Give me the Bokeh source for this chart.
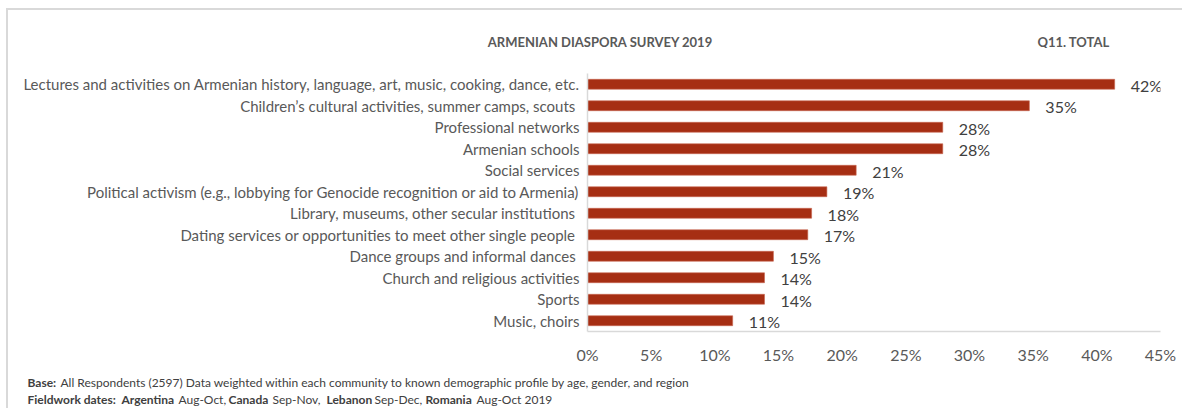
from bokeh.plotting import figure
from bokeh.models import ColumnDataSource, Label, NumeralTickFormatter, FixedTicker, Range1d
from bokeh.core.properties import value
from bokeh.embed import file_html
from bokeh.resources import INLINE

categories = [
    "Lectures and activities on Armenian history, language, art, music, cooking, dance, etc.",
    "Children\u2019s cultural activities, summer camps, scouts ",
    "Professional networks",
    "Armenian schools",
    "Social services",
    "Political activism (e.g., lobbying for Genocide recognition or aid to Armenia)",
    "Library, museums, other secular institutions ",
    "Dating services or opportunities to meet other single people ",
    "Dance groups and informal dances ",
    "Church and religious activities",
    "Sports",
    "Music, choirs",
]
values = [0.414, 0.347, 0.279, 0.279, 0.211, 0.188, 0.176, 0.173, 0.146, 0.139, 0.139, 0.114]
value_labels = ["42%", "35%", "28%", "28%", "21%", "19%", "18%", "17%", "15%", "14%", "14%", "11%"]
x_ticks = [0, 0.05, 0.10, 0.15, 0.20, 0.25, 0.30, 0.35, 0.40, 0.45]

title_text = "ARMENIAN DIASPORA SURVEY 2019"
subtitle_text = "Q11. TOTAL"

FONT = "Lato"
BAR = "#A62E13"
GREY = "#595959"
DARK = "#404040"
BORDER = "2px solid #d9d9d9"

W = 1176
OX, OY = 8, 10          # page position of the content origin
HH, MH, FH_ = 40, 326, 34   # header, main, footer heights

# ---------------- main chart ----------------
FL, FW, FT, FH = 579, 573, 25, 258

src = ColumnDataSource(dict(cat=categories, val=values, lab=value_labels))

p = figure(
    width=W, height=MH,
    y_range=list(reversed(categories)),
    x_range=Range1d(0, 0.45),
    output_backend="svg", toolbar_location=None,
    min_border_left=FL, min_border_right=W - FL - FW,
    min_border_top=FT, min_border_bottom=MH - FT - FH,
)
p.styles = {"border-left": BORDER, "margin-left": "6px"}
p.outline_line_color = None
p.xgrid.grid_line_color = None
p.ygrid.grid_line_color = None
p.background_fill_color = "white"
p.border_fill_color = "white"

p.hbar(y="cat", right="val", left=0, height=0.46, source=src,
       fill_color=BAR, line_color="#C8654F", line_width=0.6)

p.text(x="val", y="cat", text="lab", source=src, x_offset=16, y_offset=1,
       text_baseline="middle", text_align="left",
       text_font=value(FONT), text_font_size="16px", text_color=DARK)

for ax in (p.xaxis, p.yaxis):
    ax.major_tick_line_color = None
    ax.minor_tick_line_color = None
    ax.major_tick_out = 0
    ax.major_tick_in = 0
    ax.minor_tick_out = 0
    ax.minor_tick_in = 0
    ax.axis_line_color = "#d9d9d9"
    ax.axis_line_width = 1.5
    ax.major_label_text_font = FONT
    ax.major_label_text_color = GREY

p.xaxis.ticker = FixedTicker(ticks=x_ticks)
p.xaxis.formatter = NumeralTickFormatter(format="0%")
p.xaxis.major_label_text_font_size = "16px"
p.xaxis.major_label_standoff = 13

p.yaxis.major_label_text_font_size = "15px"
p.yaxis.major_label_standoff = 8


def blank(h, styles):
    f = figure(width=W, height=h, x_range=Range1d(0, W), y_range=Range1d(0, h),
               x_axis_location=None, y_axis_location=None,
               output_backend="svg", toolbar_location=None, min_border=0)
    f.outline_line_color = None
    f.grid.visible = False
    f.background_fill_color = "white"
    f.border_fill_color = "white"
    f.styles = styles
    return f


def lab(f, page_x, page_y, top, h, text, size, bold=False, align="left", color=DARK):
    f.add_layout(Label(x=page_x - OX, y=h - (page_y - OY - top), text=text,
                       text_font=FONT, text_font_size=size,
                       text_font_style="bold" if bold else "normal",
                       text_color=color, text_align=align, text_baseline="middle"))


# ---------------- header ----------------
head = blank(HH, {"border-top": BORDER, "border-left": BORDER,
                  "margin-top": "8px", "margin-left": "6px"})
lab(head, 600, 41, 0, HH, title_text, "13px", bold=True, align="center", color=GREY)
lab(head, 1073, 41, 0, HH, subtitle_text, "13px", bold=True, align="center", color=GREY)

# ---------------- footer ----------------
foot = blank(FH_, {"border-left": BORDER, "margin-left": "6px"})
FTOP = HH + MH
y1, y2 = 384, 401
fs = "12px"
pieces = [
    (27, y1, "Base:", True),
    (60, y1, "All Respondents (2597) Data weighted within each community to known demographic profile by age, gender, and region", False),
    (27, y2, "Fieldwork dates:", True),
    (121, y2, "Argentina", True),
    (178, y2, "Aug-Oct,", False),
    (228, y2, "Canada", True),
    (272, y2, "Sep-Nov,", False),
    (326, y2, "Lebanon", True),
    (374, y2, "Sep-Dec,", False),
    (425, y2, "Romania", True),
    (476, y2, "Aug-Oct 2019", False),
]
for x, y, t, b in pieces:
    lab(foot, x, y, FTOP, FH_, t, fs, bold=b)

open("out.html", "w").write(file_html([head, p, foot], INLINE))
